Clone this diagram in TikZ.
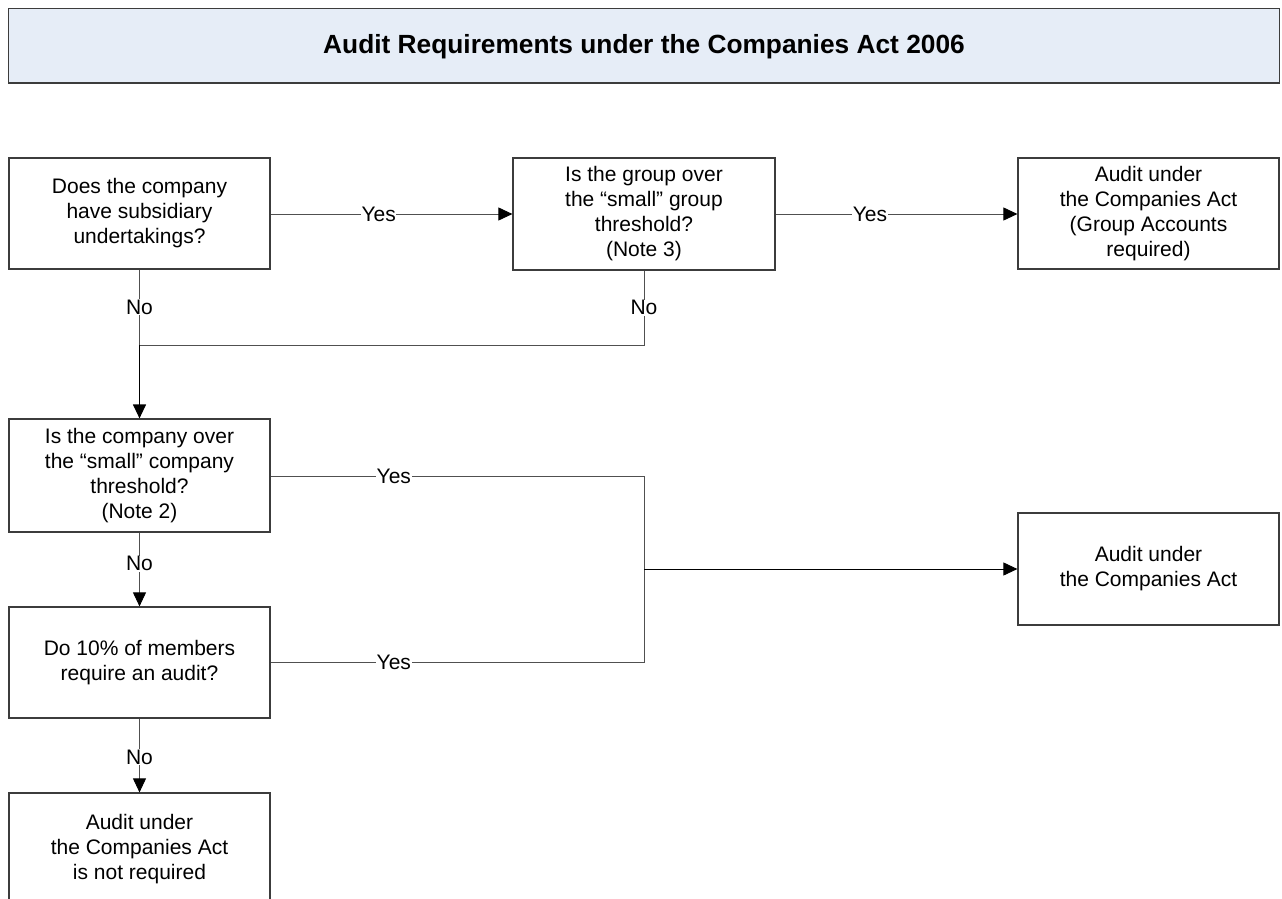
\documentclass[tikz,border=0pt]{standalone}
\usepackage{fontspec}
\setmainfont{Liberation Sans}
\usetikzlibrary{arrows.meta}
\definecolor{titlefill}{HTML}{E6EDF7}
\definecolor{edge}{HTML}{3C3C3C}
\definecolor{wire}{HTML}{505050}
\begin{document}
\begin{tikzpicture}[x=1pt,y=-1pt,
  box/.style={draw=edge,line width=1.2pt,fill=white,align=center,inner sep=0pt,
    font=\fontsize{21}{25}\selectfont,minimum width=261pt},
  link/.style={draw=wire,line width=0.9pt},
  tip/.style={-{Triangle[length=14pt,width=13pt,color=black]}},
  lab/.style={fill=white,inner sep=0.6pt,font=\fontsize{21}{25}\selectfont}]
\useasboundingbox (0,0) rectangle (1282,899);
\node[draw=edge,line width=1.4pt,fill=titlefill,minimum width=1271pt,minimum height=74.5pt,
  text height=22pt,text depth=5.5pt,
  font=\fontsize{26.3}{30}\selectfont\bfseries] (T) at (644,45.75) {Audit Requirements under the Companies Act 2006};
\node[box,minimum height=111pt] (A) at (139.5,213.5) {Does the company\\have subsidiary\\undertakings?};
\node[box,minimum height=112pt,minimum width=262pt] (B) at (644,214) {Is the group over\\the “small” group\\threshold?\\(Note 3)};
\node[box,minimum height=111pt] (C) at (1148.5,213.5) {Audit under\\the Companies Act\\(Group Accounts\\required)};
\node[box,minimum height=113pt] (D) at (139.5,475.5) {Is the company over\\the “small” company\\threshold?\\(Note 2)};
\node[box,minimum height=112pt] (E) at (1148.5,569) {Audit under\\the Companies Act};
\node[box,minimum height=111pt] (F) at (139.5,662.5) {Do 10\% of members\\require an audit?};
\node[box,minimum height=112pt] (G) at (139.5,849) {Audit under\\the Companies Act\\is not required};
\coordinate (J) at (139.5,345);
\coordinate (K) at (644,569);
% top row
\draw[link,tip] (A.east |- 0,214) -- node[lab,pos=0.447]{Yes} (B.west |- 0,214);
\draw[link,tip] (B.east |- 0,214) -- node[lab,pos=0.39]{Yes} (C.west |- 0,214);
% No branches to D
\draw[link] (A.south) -- node[lab]{No} (J);
\draw[link] (B.south) -- node[lab]{No} (B.south |- J) -- (J);
\draw[link,line width=1.2pt,draw=black,tip] (J) -- (D.north);
% Yes branches to E
\draw[link] (D.east |- 0,476) -- node[lab,pos=0.33]{Yes} (K |- 0,476) -- (K |- 0,662) -- node[lab,pos=0.67]{Yes} (F.east |- 0,662);
\draw[link,draw=black,tip] (K) -- (E.west |- K);
% No branches down
\draw[link,tip] (D.south) -- node[lab,pos=0.42]{No} (F.north);
\draw[link,tip] (F.south) -- node[lab,pos=0.52]{No} (G.north);
\end{tikzpicture}
\end{document}
